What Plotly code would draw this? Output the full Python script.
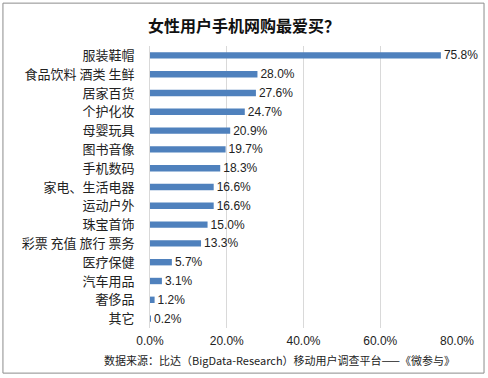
import plotly.graph_objects as go

categories = ["服装鞋帽", "食品饮料 酒类 生鲜", "居家百货", "个护化妆", "母婴玩具", "图书音像",
              "手机数码", "家电、生活电器", "运动户外", "珠宝首饰", "彩票 充值 旅行 票务",
              "医疗保健", "汽车用品", "奢侈品", "其它"]
values = [75.8, 28.0, 27.6, 24.7, 20.9, 19.7, 18.3, 16.6, 16.6, 15.0, 13.3, 5.7, 3.1, 1.2, 0.2]
tick_vals = [0, 20, 40, 60, 80]
tick_text = ["0.0%", "20.0%", "40.0%", "60.0%", "80.0%"]
title = "女性用户手机网购最爱买？"
source = "数据来源：比达（BigData-Research）移动用户调查平台——《微参与》"

cjk = "Noto Sans CJK SC"
fig = go.Figure(go.Bar(
    x=values, y=categories, orientation="h",
    marker=dict(color="#4F81BD", line=dict(width=0)),
    width=0.34,
    text=[f"{v:.1f}%" for v in values], textposition="outside",
    constraintext="none",
    textfont=dict(family="Liberation Sans, Arial", size=12, color="#222222"),
    cliponaxis=False,
))
fig.update_layout(
    width=488, height=378,
    margin=dict(l=150, r=31, t=46, b=50, autoexpand=False),
    paper_bgcolor="white", plot_bgcolor="white",
    showlegend=False,
    title=dict(text=f"<b>{title}</b>", x=0.5, xanchor="center", y=0.929, yanchor="middle",
               font=dict(family=cjk, size=16, color="#111111")),
    xaxis=dict(range=[0, 80], tickvals=tick_vals, ticktext=tick_text, automargin=False,
               showgrid=True, gridcolor="#D9D9D9", gridwidth=1, zeroline=False,
               showline=False, ticks="", ticklabelstandoff=4,
               tickfont=dict(family="Liberation Sans, Arial", size=12, color="#222222")),
    yaxis=dict(autorange="reversed", showgrid=False, showline=True, linecolor="#D9D9D9",
               ticks="", ticklabelstandoff=12, automargin=False,
               tickfont=dict(family=cjk, size=13, color="#222222")),
    annotations=[dict(text=source, xref="paper", yref="paper", x=0.423, y=-0.113,
                      xanchor="center", yanchor="middle", showarrow=False,
                      font=dict(family=cjk, size=11, color="#222222"))],
    shapes=[dict(type="rect", xref="paper", yref="paper", x0=-0.479, x1=1.088, y0=-0.16, y1=1.152,
                 line=dict(color="#8C8C8C", width=1), layer="below")],
)
fig.write_html("out.html", config={"displayModeBar": False},
               post_script="document.body.style.margin='0';document.body.style.overflow='hidden';")
